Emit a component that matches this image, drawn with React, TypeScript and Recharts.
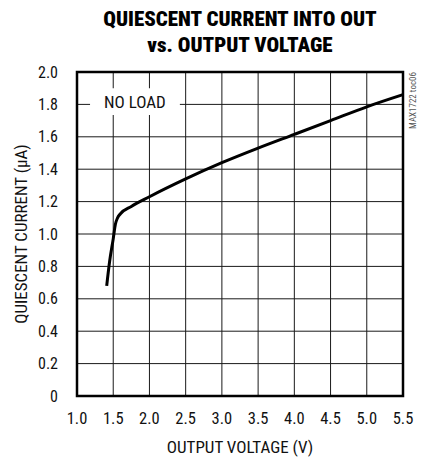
import React from "react";
import {
  LineChart,
  Line,
  XAxis,
  YAxis,
  CartesianGrid,
  ReferenceArea,
} from "recharts";

const voltage = [1.41, 1.45, 1.5, 1.53, 1.56, 1.6, 1.75, 2.0, 2.5, 3.0, 3.5, 4.0, 4.5, 5.0, 5.5];
const current = [0.68, 0.83, 0.97, 1.06, 1.1, 1.125, 1.17, 1.23, 1.34, 1.44, 1.53, 1.615, 1.7, 1.785, 1.86];
const xTicks = [1.0, 1.5, 2.0, 2.5, 3.0, 3.5, 4.0, 4.5, 5.0, 5.5];
const yTicks = [0, 0.2, 0.4, 0.6, 0.8, 1.0, 1.2, 1.4, 1.6, 1.8, 2.0];

const data = voltage.map((v, i) => ({ v, i: current[i] }));

const FONT = "'Liberation Sans Narrow', 'Roboto Condensed', 'Liberation Sans', sans-serif";

export default function App() {
  return (
    <div style={{ position: "absolute", left: 0, top: 0, width: 425, height: 457, background: "#fff" }}>
      <div
        style={{
          position: "absolute",
          left: 0,
          width: 480,
          top: 6,
          textAlign: "center",
          fontFamily: FONT,
          fontWeight: 900,
          fontSize: 21,
          lineHeight: "26px",
          color: "#000",
        }}
      >
        QUIESCENT CURRENT INTO OUT
        <br />
        vs. OUTPUT VOLTAGE
      </div>
      <LineChart
        width={425}
        height={457}
        data={data}
        margin={{ top: 72, right: 22, left: 0, bottom: 0 }}
        style={{ position: "absolute", left: 0, top: 0 }}
      >
        <CartesianGrid stroke="#1a1a1a" strokeWidth={1} />
        <XAxis
          dataKey="v"
          type="number"
          domain={[1, 5.5]}
          ticks={xTicks}
          tickFormatter={(t: number) => t.toFixed(1)}
          axisLine={false}
          tickLine={false}
          tickSize={0}
          tickMargin={16}
          height={61}
          tick={{ fill: "#111", fontSize: 16.5, fontFamily: FONT }}
          label={{ value: "OUTPUT VOLTAGE (V)", position: "insideBottom", offset: 4, fill: "#111", fontSize: 17, fontFamily: FONT }}
        />
        <YAxis
          type="number"
          domain={[0, 2]}
          ticks={yTicks}
          tickFormatter={(t: number) => (t === 0 ? "0" : t.toFixed(1))}
          axisLine={false}
          tickLine={false}
          tickSize={0}
          tickMargin={19}
          width={77}
          tick={{ fill: "#111", fontSize: 16, fontFamily: FONT }}
          label={{ value: "QUIESCENT CURRENT (µA)", angle: -90, position: "insideLeft", offset: 21, fill: "#111", fontSize: 17, fontFamily: FONT, style: { textAnchor: "middle" } }}
        />
        <ReferenceArea
          x1={1.18}
          x2={2.42}
          y1={1.735}
          y2={1.9}
          fill="#fff"
          fillOpacity={1}
          stroke="none"
          label={{ value: "NO LOAD", position: "center", fill: "#111", fontSize: 17, fontFamily: FONT }}
        />
        <ReferenceArea
          x1={1}
          x2={5.5}
          y1={0}
          y2={2}
          fill="none"
          stroke="#000"
          strokeWidth={2.5}
          ifOverflow="visible"
        />
        <Line
          type="monotone"
          dataKey="i"
          stroke="#000"
          strokeWidth={3}
          dot={false}
          isAnimationActive={false}
        />
      </LineChart>
      <div
        style={{
          position: "absolute",
          left: 408,
          top: 72,
          width: 11,
          height: 57,
          writingMode: "vertical-rl",
          transform: "rotate(180deg)",
          fontFamily: FONT,
          fontSize: 9,
          lineHeight: "11px",
          color: "#555",
          whiteSpace: "nowrap",
        }}
      >
        MAX1722 toc06
      </div>
    </div>
  );
}
